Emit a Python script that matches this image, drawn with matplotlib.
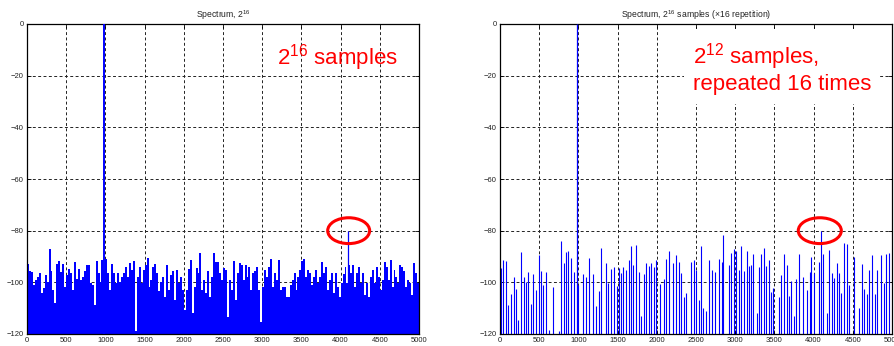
import numpy as np
import matplotlib
matplotlib.use("Agg")
import matplotlib.pyplot as plt
from matplotlib.patches import Ellipse

plt.rcParams['font.family'] = ['Liberation Sans', 'DejaVu Sans']
plt.rcParams['mathtext.fontset'] = 'custom'
plt.rcParams['mathtext.rm'] = 'Liberation Sans'
plt.rcParams['mathtext.it'] = 'Liberation Sans:italic'

# left: 2^16 point spectrum, one level every 25 bins (dB)
left_step = 25
left_level = [
    -93, -95.6, -96, -101, -99, -98, -96.5, -104, -102, -97, -100, -87, -95.8, -103, -108, -93, -91.6, -96, -93, -101.7,
    -97, -95, -96.5, -103, -92, -98.8, -95, -99, -98, -95.5, -93.3, -93.3, -100.4, -101, -108.8, -91.6, -96.2, -99.7, -91.3, -95.2,
    -91, -96.5, -103, -93, -96.5, -100.4, -96.5, -99.7, -97.8, -96.2, -94, -98, -92.6, -95.2, -91.6, -119, -97.8, -94, -100.4, -95.2,
    -93.3, -90.7, -101.7, -99, -94, -93, -96.5, -103.5, -100, -97.8, -105.5, -93.3, -103, -97, -95.8, -106.8, -95.2, -100.4, -97.8, -103,
    -110.7, -103, -95, -91.3, -112, -101.7, -94.6, -96.5, -88.5, -103, -99, -104.2, -95.8, -105.5, -97.8, -88.5, -92.1, -92.1, -96.5, -99,
    -94.6, -95.2, -113.3, -99, -103, -91.9, -106.8, -96.5, -92.6, -93.3, -99, -93.3, -97.8, -94, -103, -96.5, -95.8, -94, -103, -115.2,
    -101.7, -95.2, -97.8, -94, -91, -101.7, -96.5, -99, -91.3, -103, -101.7, -101.7, -105.5, -105.5, -101, -99, -96.5, -103, -97.8, -95.2,
    -91.6, -91.1, -97.8, -95.2, -96.5, -101, -97.8, -95.2, -100.4, -97.8, -92, -96.5, -94.2, -103, -99, -96.5, -104.2, -96.5, -101.7, -105.5,
    -100.4, -96.8, -94, -100.4, -93.3, -96.5, -93.3, -101.7, -96.5, -94, -100.4, -96.5, -104.9, -100.4, -105.5, -97.8, -95.2, -100.4, -94, -97.8,
    -103, -99, -92, -94, -99, -91.3, -101.7, -95.2, -97.8, -100.4, -93.3, -94, -95.8, -101.7, -99, -100.4, -104.9, -92.6, -96.5, -100.4,
]

# right: 2^12 samples repeated 16 times -> sparse lines
right_freq = [
    13, 43, 77, 107, 141, 179, 205, 234, 264, 307, 336, 358, 396, 426, 460, 494, 524, 553, 587, 621,
    681, 749, 779, 817, 843, 872, 906, 940, 1000, 1059, 1098, 1136, 1191, 1225, 1259, 1289, 1353, 1383, 1417, 1455,
    1489, 1515, 1549, 1574, 1612, 1646, 1672, 1697, 1736, 1770, 1800, 1834, 1863, 1897, 1931, 1965, 1995, 2042, 2093, 2119,
    2157, 2212, 2246, 2280, 2310, 2348, 2370, 2442, 2472, 2501, 2535, 2565, 2595, 2629, 2667, 2710, 2740, 2799, 2833, 2850,
    2922, 2948, 2986, 3012, 3046, 3080, 3114, 3148, 3178, 3203, 3229, 3276, 3305, 3335, 3361, 3395, 3429, 3458, 3488, 3556,
    3582, 3624, 3667, 3684, 3714, 3752, 3777, 3816, 3871, 3914, 3948, 3973, 4007, 4071, 4126, 4169, 4198, 4232, 4262, 4296,
    4318, 4351, 4394, 4424, 4454, 4509, 4581, 4615, 4649, 4679, 4713, 4747, 4785, 4807, 4862, 4896, 4926, 4956,
]
right_level = [
    -94.5, -91.5, -91.6, -108.9, -104.7, -97.8, -102.5, -114.4, -88.3, -97.8, -100, -96.1, -108.4, -96.8, -102.8, -89.3, -95.5, -101.2, -96, -118.3,
    -101.9, -118.7, -83.9, -92.4, -88.3, -87.7, -90.4, -96.1, -101.2, -96.6, -98, -90.6, -96.6, -109, -103.2, -86.6, -92.4, -100.4, -94.7, -94,
    -101.6, -94.3, -96.5, -94.2, -95.2, -91.5, -86, -93.2, -85.5, -96.1, -113.1, -96.8, -92.6, -93.8, -92.6, -94.2, -91.3, -100.7, -98.6, -91,
    -88, -92.6, -89.6, -92, -96.5, -105.8, -104.3, -92, -91.5, -95.2, -106.9, -85.8, -110, -111, -91.5, -95.2, -96, -91, -92, -81.7,
    -93.2, -88.7, -87, -87.8, -95.2, -85.8, -95.5, -87.7, -93.8, -93.4, -89.2, -111.8, -94.2, -89.1, -86.9, -93.8, -91.5, -103.9, -102.2, -105.8,
    -97.1, -89, -93.4, -105.2, -99.3, -113.1, -98.7, -89, -98, -102.8, -96, -90, -96.5, -92, -89, -111.8, -87.4, -96.5, -98.4, -92.6,
    -96.5, -104.3, -84.6, -85.2, -101, -90.2, -110, -93, -102.5, -104.4, -95.2, -89.6, -104.4, -95.2, -89.4, -100.4, -89.1, -88.7,
]

tone_freq = 980
tone_level = 0
spur_freq = 4096
spur_level = -80

floor = -120
blue = '#0000ff'

fig = plt.figure(figsize=(8.94, 3.46), dpi=100)
axL = fig.add_axes([27 / 894, 12 / 346, 392 / 894, 310 / 346])
axR = fig.add_axes([500 / 894, 12 / 346, 392 / 894, 310 / 346])

# left panel
left_freq = np.arange(len(left_level)) * left_step
lv = np.array(left_level)
axL.bar(left_freq, lv - floor, bottom=floor, width=left_step, align='edge',
        color=blue, linewidth=0, zorder=2)
axL.vlines(tone_freq, floor, tone_level, color=blue, lw=1.4, zorder=3)
axL.vlines(spur_freq, floor, spur_level, color=blue, lw=0.9, zorder=3)

# right panel
axR.vlines(right_freq, floor, right_level, color=blue, lw=0.8, zorder=2)
axR.vlines(tone_freq, floor, tone_level, color=blue, lw=0.9, zorder=3)
axR.vlines(spur_freq, floor, spur_level, color=blue, lw=0.8, zorder=3)

for ax in (axL, axR):
    ax.set_xlim(0, 5000)
    ax.set_ylim(-120, 0)
    ax.set_xticks(np.arange(0, 5001, 500))
    ax.set_yticks(np.arange(-120, 1, 20))
    ax.tick_params(direction='in', top=True, right=True, length=3, width=0.6,
                   labelsize=5.5, labelcolor='#222222', pad=2.5)
    ax.grid(True, color='#222222', lw=0.7, linestyle=(0, (3, 2.5)), zorder=1)
    ax.set_axisbelow(True)
    for s in ax.spines.values():
        s.set_linewidth(0.9)

axL.set_title(r'Spectrum, $\mathregular{2^{16}}$', fontsize=6.2, color='#222222', pad=4)
axR.set_title(r'Spectrum, $\mathregular{2^{16}}$ samples (×16 repetition)', fontsize=6.2,
              color='#222222', pad=4)

axL.text(3190, -13, r'$\mathregular{2^{16}}$ samples', color='red', fontsize=16,
         ha='left', va='center', zorder=5)
axR.text(2460, -17, '$\\mathregular{2^{12}}$ samples,\nrepeated 16 times', color='red',
         fontsize=16, ha='left', va='center', linespacing=1.15, zorder=5,
         bbox=dict(facecolor='white', edgecolor='none', pad=6))

axL.add_patch(Ellipse((4103, -80), 535, 10, fill=False, edgecolor='red', lw=2.2, zorder=6))
axR.add_patch(Ellipse((4079, -80), 549, 10, fill=False, edgecolor='red', lw=2.2, zorder=6))

fig.savefig('out.png', dpi=100)
